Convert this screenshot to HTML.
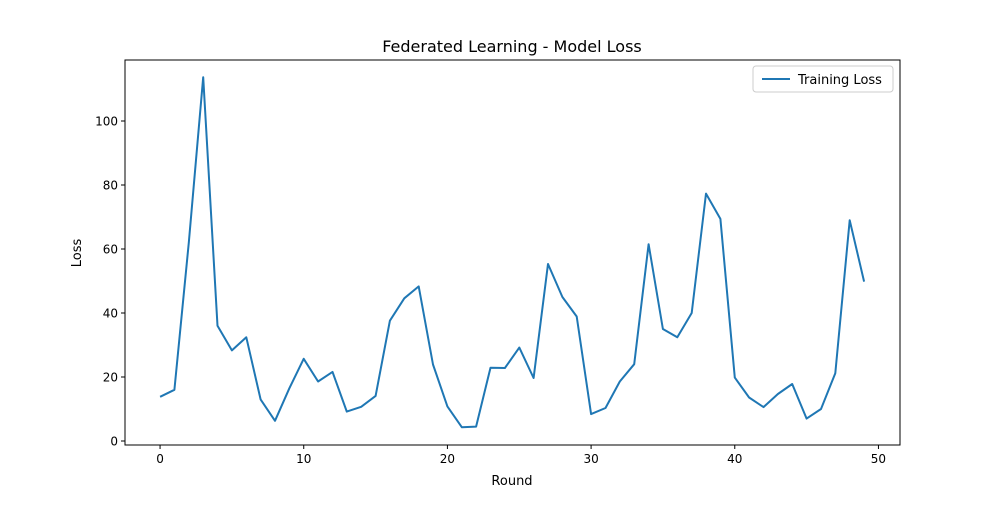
<!DOCTYPE html>
<html><head><meta charset="utf-8"><style>
body{margin:0;background:#fff;font-family:"Liberation Sans","DejaVu Sans",sans-serif}
</style></head><body>
<svg id="chart" width="1000" height="500" xmlns="http://www.w3.org/2000/svg" font-family="DejaVu Sans, Liberation Sans, sans-serif">
<rect width="1000" height="500" fill="#fff"/>
<text x="512" y="52" text-anchor="middle" font-size="16">Federated Learning - Model Loss</text>
<g id="axes"></g>
<text x="512" y="485" text-anchor="middle" font-size="13">Round</text>
<text x="81" y="253" text-anchor="middle" font-size="13" transform="rotate(-90 81 253)">Loss</text>
<g>
<rect x="753" y="66" width="140" height="26" rx="3" fill="#fff" stroke="#ccc"/>
<line x1="762" y1="79" x2="790" y2="79" stroke="#1f77b4" stroke-width="2"/>
<text x="798" y="84" font-size="13">Training Loss</text>
</g>
</svg>
<script>
const rounds=[0,1,2,3,4,5,6,7,8,9,10,11,12,13,14,15,16,17,18,19,20,21,22,23,24,25,26,27,28,29,30,31,32,33,34,35,36,37,38,39,40,41,42,43,44,45,46,47,48,49];
const loss=[13.8,16,62,113.7,36,28.3,32.4,13,6.3,16.5,25.7,18.6,21.6,9.2,10.7,14.1,37.6,44.6,48.3,23.9,10.8,4.3,4.5,22.9,22.8,29.2,19.7,55.3,45,38.9,8.4,10.3,18.6,24,61.5,35,32.4,40,77.3,69.4,19.8,13.6,10.6,14.7,17.8,7,10,21.2,69,49.8];
const xTicks=[0,10,20,30,40,50];
const yTicks=[0,20,40,60,80,100];
const L=125,R=900,T=60,B=445;
const xMin=-2.44,xMax=51.5,yMin=-1.25,yMax=119.06;
const sx=v=>L+(v-xMin)/(xMax-xMin)*(R-L);
const sy=v=>B-(v-yMin)/(yMax-yMin)*(B-T);
const NS="http://www.w3.org/2000/svg";
const g=document.getElementById('axes');
function mk(t,a){const e=document.createElementNS(NS,t);for(const k in a)e.setAttribute(k,a[k]);g.appendChild(e);return e;}
const frame=mk('rect',{x:L,y:T,width:R-L,height:B-T,fill:'none',stroke:'#000','stroke-width':1});


xTicks.forEach(v=>{
 const x=sx(v);
 const tk=mk('line',{x1:x,x2:x,y1:B,y2:B+4,stroke:'#000'});
 
 
 const tx=mk('text',{x:x,y:B+18,'text-anchor':'middle','font-size':12});
 tx.textContent=v;
 
 
});
yTicks.forEach(v=>{
 const y=sy(v);
 const tk=mk('line',{x1:L-4,x2:L,y1:y,y2:y,stroke:'#000'});
 
 
 const tx=mk('text',{x:L-7,y:y+4.5,'text-anchor':'end','font-size':12});
 tx.textContent=v;
 
 
});
const pts=rounds.map((r,i)=>sx(r).toFixed(1)+','+sy(loss[i]).toFixed(1)).join(' ');
const line=mk('polyline',{points:pts,fill:'none',stroke:'#1f77b4','stroke-width':2,'stroke-linejoin':'round'});


</script>
</body></html>
